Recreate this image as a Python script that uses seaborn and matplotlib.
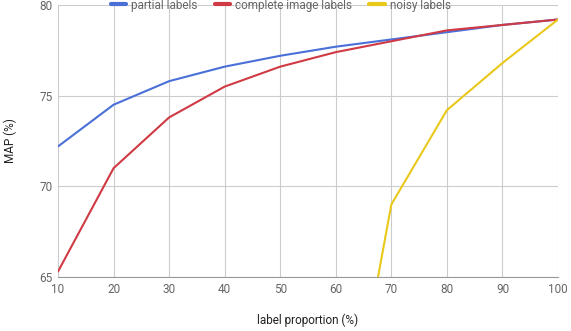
import matplotlib
matplotlib.use("Agg")
import matplotlib.pyplot as plt
import seaborn as sns
import pandas as pd

proportion = [10, 20, 30, 40, 50, 60, 70, 80, 90, 100]
partial = [72.2, 74.5, 75.8, 76.6, 77.2, 77.7, 78.1, 78.5, 78.9, 79.2]
complete = [65.3, 71.0, 73.8, 75.5, 76.6, 77.4, 78.0, 78.6, 78.9, 79.2]
noisy_x = [60, 70, 80, 90, 100]
noisy = [52.3, 69.0, 74.2, 76.8, 79.2]

series_names = ["partial labels", "complete image labels", "noisy labels"]
colors = ["#4a70d8", "#d03a44", "#e9c81a"]

rows = []
for x, v in zip(proportion, partial):
    rows.append((x, v, series_names[0]))
for x, v in zip(proportion, complete):
    rows.append((x, v, series_names[1]))
for x, v in zip(noisy_x, noisy):
    rows.append((x, v, series_names[2]))
df = pd.DataFrame(rows, columns=["proportion", "map", "series"])

sns.set_theme(style="white")
plt.rcParams["font.family"] = ["Roboto", "DejaVu Sans"]

fig = plt.figure(figsize=(5.71, 3.31), dpi=100)
ax = fig.add_axes([58 / 571, 54 / 331, 500 / 571, 272 / 331])

sns.lineplot(data=df, x="proportion", y="map", hue="series", hue_order=series_names,
             palette=colors, linewidth=1.5, ax=ax, legend=True)

ax.set_xlim(10, 100)
ax.set_ylim(65, 80)
ax.set_xticks(proportion)
ax.set_yticks([65, 70, 75, 80])
ax.grid(True, color="#cccccc", linewidth=0.8)
ax.set_axisbelow(True)
for s in ["top", "right", "left"]:
    ax.spines[s].set_visible(False)
ax.spines["bottom"].set_color("#999999")
ax.spines["bottom"].set_linewidth(0.8)
ax.tick_params(axis="both", length=0, labelsize=8.5, colors="#666666", pad=4)
ax.set_xlabel("label proportion (%)", fontsize=8.5, color="#222222", labelpad=13)
ax.set_ylabel("MAP (%)", fontsize=8.5, color="#222222", labelpad=16)

leg = ax.legend(loc="center", bbox_to_anchor=(0.445, 1.0), ncol=3, frameon=False,
                fontsize=8.5, handlelength=1.3, handletextpad=0.4, columnspacing=1.5,
                borderaxespad=0)
for t in leg.get_texts():
    t.set_color("#666666")
for l in leg.get_lines():
    l.set_linewidth(3)

fig.savefig("out.png", dpi=100)
